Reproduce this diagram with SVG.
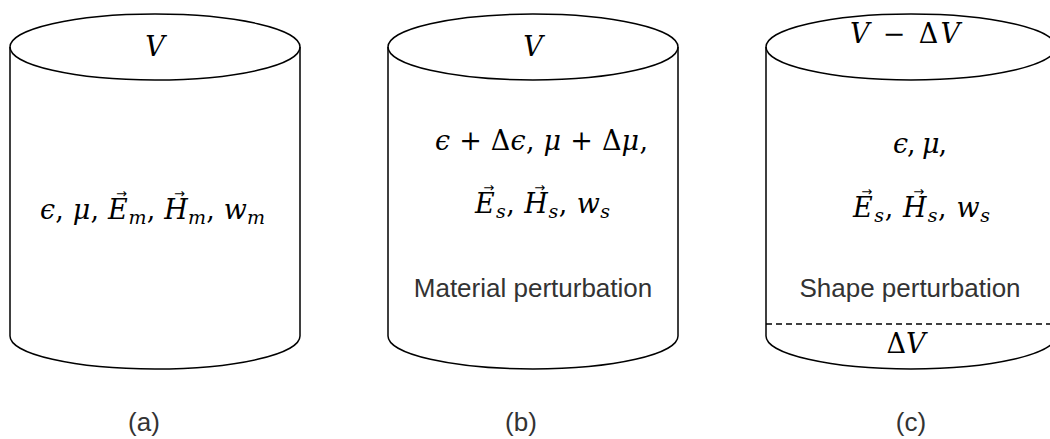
<svg xmlns="http://www.w3.org/2000/svg" width="1050" height="439" viewBox="0 0 1050 439">
<style>
.body{fill:#fff;stroke:#000;stroke-width:1.5}
.rim{fill:none;stroke:#000;stroke-width:1.5}
.dash{fill:none;stroke:#000;stroke-width:1.5;stroke-dasharray:6 4}
.m{font-family:"DejaVu Serif","Liberation Serif",serif;font-size:27px;font-style:italic;fill:#000;text-anchor:middle}
.u{font-style:normal}
.sub{font-size:19px}
.arr{font-family:"DejaVu Sans",sans-serif;font-style:normal;font-size:13px}
.s{font-family:"Liberation Sans",Arial,sans-serif;font-size:26px;fill:#333;text-anchor:middle}
</style>
<rect width="1050" height="439" fill="#fff"/>
<g id="cylinder-a">
<path class="body" d="M10,47 A145,33 0 0 1 300,47 L300,336 A145,33 0 0 1 10,336 Z"/>
<path class="rim" d="M10,47 A145,33 0 0 0 300,47"/>
<text class="m" x="155" y="56">V</text>
<text class="m" x="152.5" y="219" textLength="225" lengthAdjust="spacing">ϵ<tspan class="u">, </tspan>μ<tspan class="u">, </tspan>E<tspan class="arr" dx="-12" dy="-21">→</tspan><tspan class="sub" dx="1.5" dy="26">m</tspan><tspan class="u" dy="-5">, </tspan>H<tspan class="arr" dx="-14" dy="-21">→</tspan><tspan class="sub" dx="3" dy="26">m</tspan><tspan class="u" dy="-5">, </tspan>w<tspan class="sub" dy="5">m</tspan></text>
<text class="s" x="144" y="431">(a)</text>
</g>
<g id="cylinder-b">
<path class="body" d="M388,47 A145,33 0 0 1 678,47 L678,336 A145,33 0 0 1 388,336 Z"/>
<path class="rim" d="M388,47 A145,33 0 0 0 678,47"/>
<text class="m" x="533" y="56">V</text>
<text class="m" x="541.5" y="150" textLength="213" lengthAdjust="spacing">ϵ<tspan class="u"> + Δ</tspan>ϵ<tspan class="u">, </tspan>μ<tspan class="u"> + Δ</tspan>μ<tspan class="u">,</tspan></text>
<text class="m" x="542.5" y="213" textLength="135" lengthAdjust="spacing">E<tspan class="arr" dx="-12" dy="-21">→</tspan><tspan class="sub" dx="1.5" dy="26">s</tspan><tspan class="u" dy="-5">, </tspan>H<tspan class="arr" dx="-14" dy="-21">→</tspan><tspan class="sub" dx="3" dy="26">s</tspan><tspan class="u" dy="-5">, </tspan>w<tspan class="sub" dy="5">s</tspan></text>
<text class="s" x="533" y="297">Material perturbation</text>
<text class="s" x="521" y="431">(b)</text>
</g>
<g id="cylinder-c">
<path class="body" d="M766,47 A145,33 0 0 1 1056,47 L1056,336 A145,33 0 0 1 766,336 Z"/>
<path class="rim" d="M766,47 A145,33 0 0 0 1056,47"/>
<path class="dash" d="M766,324 L1056,324"/>
<text class="m" x="905" y="43" textLength="110" lengthAdjust="spacing">V<tspan class="u"> − Δ</tspan>V</text>
<text class="m" x="920" y="153" textLength="54" lengthAdjust="spacing">ϵ<tspan class="u">, </tspan>μ<tspan class="u">,</tspan></text>
<text class="m" x="921.5" y="217" textLength="137" lengthAdjust="spacing">E<tspan class="arr" dx="-12" dy="-21">→</tspan><tspan class="sub" dx="1.5" dy="26">s</tspan><tspan class="u" dy="-5">, </tspan>H<tspan class="arr" dx="-14" dy="-21">→</tspan><tspan class="sub" dx="3" dy="26">s</tspan><tspan class="u" dy="-5">, </tspan>w<tspan class="sub" dy="5">s</tspan></text>
<text class="s" x="910" y="297">Shape perturbation</text>
<text class="m" x="906" y="353"><tspan class="u">Δ</tspan>V</text>
<text class="s" x="911" y="431">(c)</text>
</g>
<g id="connectors"/>
</svg>
